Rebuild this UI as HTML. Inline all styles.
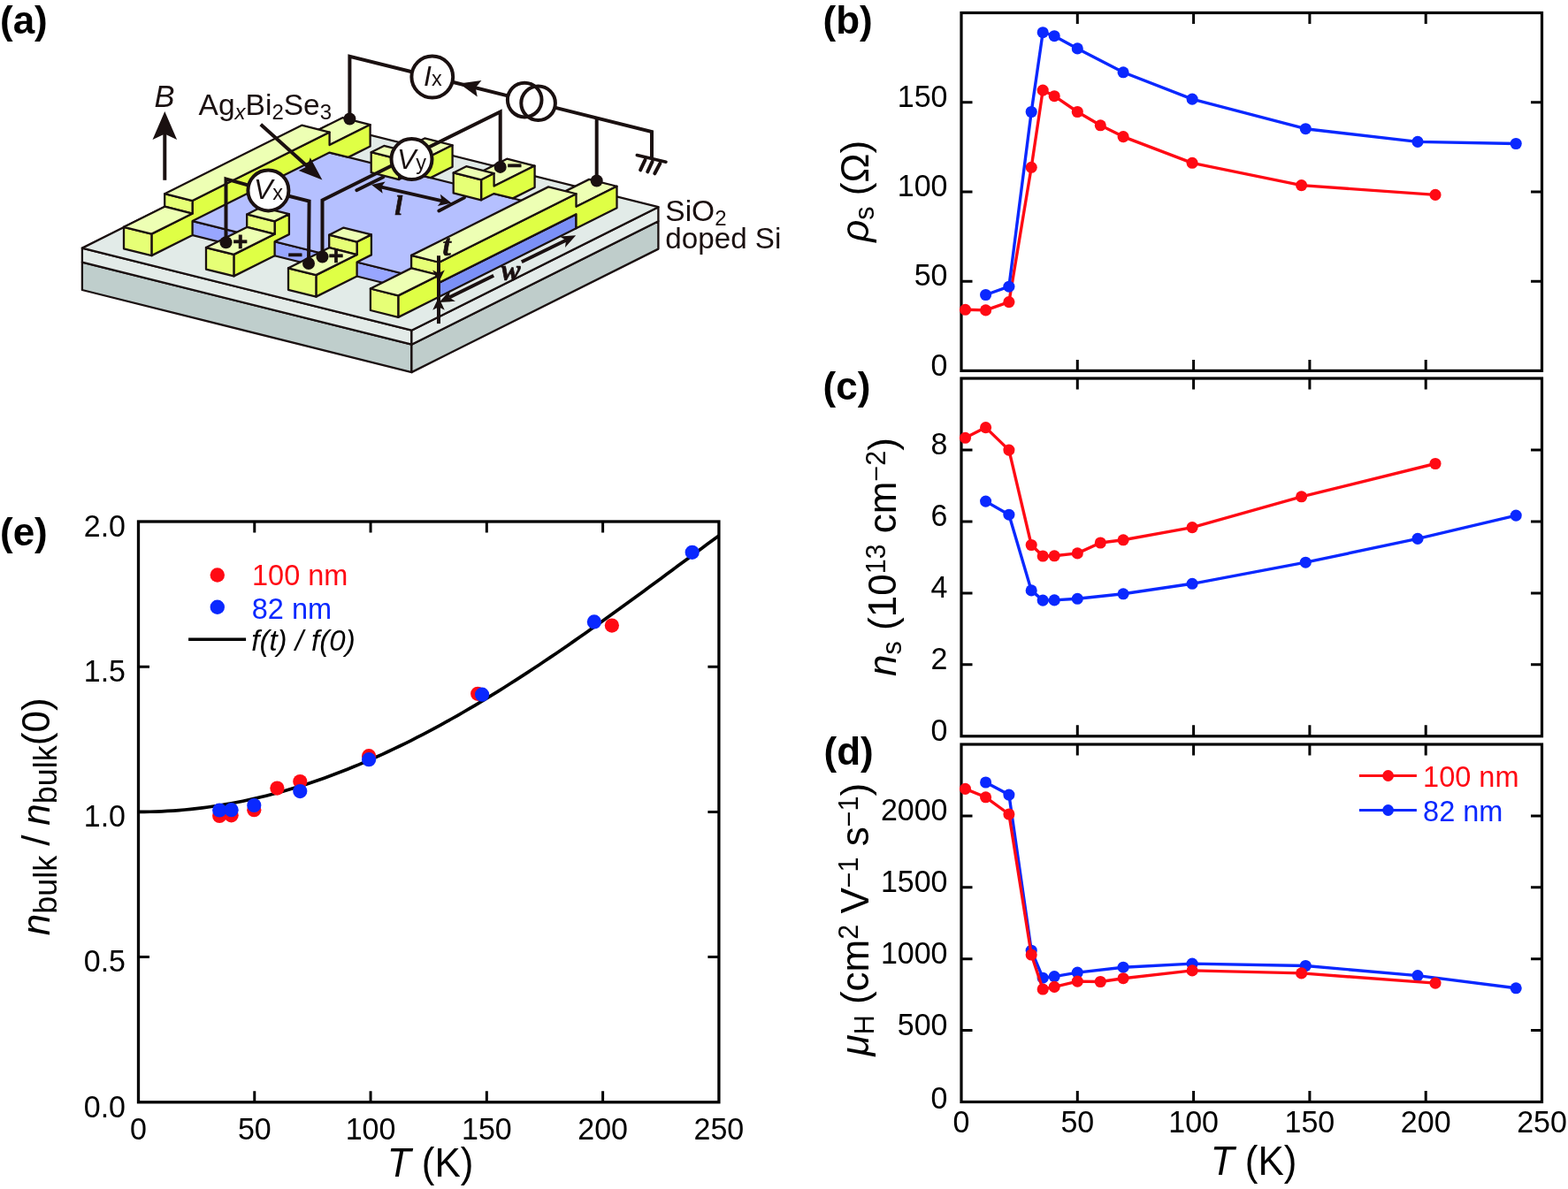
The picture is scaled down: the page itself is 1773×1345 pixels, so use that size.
<!DOCTYPE html>
<html lang="en"><head><meta charset="utf-8"><title>Figure</title>
<style>
html,body{margin:0;padding:0;background:#fff;}
body{width:1773px;height:1345px;overflow:hidden;}
svg{display:block;font-family:"Liberation Sans", sans-serif;}
</style></head><body>
<svg width="1773" height="1345" viewBox="0 0 1773 1345">
<rect width="1773" height="1345" fill="#fff"/>
<rect x="1087" y="14.5" width="656.5" height="404.9" fill="none" stroke="#000" stroke-width="3.2"/>
<path d="M1218.3 419.4v-12.5M1218.3 14.5v12.5M1349.6 419.4v-12.5M1349.6 14.5v12.5M1480.9 419.4v-12.5M1480.9 14.5v12.5M1612.2 419.4v-12.5M1612.2 14.5v12.5M1087 318.17h12.5M1743.5 318.17h-12.5M1087 216.95h12.5M1743.5 216.95h-12.5M1087 115.72h12.5M1743.5 115.72h-12.5" fill="none" stroke="#000" stroke-width="3.0"/>
<polyline points="1091.5,350.3 1114.6,350.9 1140.9,341.6 1166.2,189.3 1179.2,102.1 1192.2,108.7 1218.3,126.5 1244.3,141.8 1270.1,154.6 1348.1,184.3 1471.6,209.6 1623,220.4" fill="none" stroke="#ff0a14" stroke-width="3.4" stroke-linejoin="round"/>
<g fill="#ff0a14"><circle cx="1091.5" cy="350.3" r="6.55"/><circle cx="1114.6" cy="350.9" r="6.55"/><circle cx="1140.9" cy="341.6" r="6.55"/><circle cx="1166.2" cy="189.3" r="6.55"/><circle cx="1179.2" cy="102.1" r="6.55"/><circle cx="1192.2" cy="108.7" r="6.55"/><circle cx="1218.3" cy="126.5" r="6.55"/><circle cx="1244.3" cy="141.8" r="6.55"/><circle cx="1270.1" cy="154.6" r="6.55"/><circle cx="1348.1" cy="184.3" r="6.55"/><circle cx="1471.6" cy="209.6" r="6.55"/><circle cx="1623" cy="220.4" r="6.55"/></g>
<polyline points="1114.6,333.5 1140.9,324.2 1166.2,126.5 1179.2,36.7 1192.2,40.7 1218.3,54.9 1270.1,81.8 1348.1,112.1 1476.3,145.7 1603,160.4 1714.2,162.5" fill="none" stroke="#0a28ff" stroke-width="3.4" stroke-linejoin="round"/>
<g fill="#0a28ff"><circle cx="1114.6" cy="333.5" r="6.55"/><circle cx="1140.9" cy="324.2" r="6.55"/><circle cx="1166.2" cy="126.5" r="6.55"/><circle cx="1179.2" cy="36.7" r="6.55"/><circle cx="1192.2" cy="40.7" r="6.55"/><circle cx="1218.3" cy="54.9" r="6.55"/><circle cx="1270.1" cy="81.8" r="6.55"/><circle cx="1348.1" cy="112.1" r="6.55"/><circle cx="1476.3" cy="145.7" r="6.55"/><circle cx="1603" cy="160.4" r="6.55"/><circle cx="1714.2" cy="162.5" r="6.55"/></g>
<text transform="translate(1071.5 424.6) scale(1 1.04)" font-size="34" text-anchor="end">0</text>
<text transform="translate(1071.5 323.37) scale(1 1.04)" font-size="34" text-anchor="end">50</text>
<text transform="translate(1071.5 222.15) scale(1 1.04)" font-size="34" text-anchor="end">100</text>
<text transform="translate(1071.5 120.92) scale(1 1.04)" font-size="34" text-anchor="end">150</text>
<rect x="1087" y="428" width="656.5" height="404.8" fill="none" stroke="#000" stroke-width="3.2"/>
<path d="M1218.3 832.8v-12.5M1218.3 428v12.5M1349.6 832.8v-12.5M1349.6 428v12.5M1480.9 832.8v-12.5M1480.9 428v12.5M1612.2 832.8v-12.5M1612.2 428v12.5M1087 751.84h12.5M1743.5 751.84h-12.5M1087 670.88h12.5M1743.5 670.88h-12.5M1087 589.92h12.5M1743.5 589.92h-12.5M1087 508.96h12.5M1743.5 508.96h-12.5" fill="none" stroke="#000" stroke-width="3.0"/>
<polyline points="1114.6,567.1 1140.9,582.2 1166.2,667.9 1179.2,679.1 1192.2,678.9 1218.3,677.3 1270.1,671.8 1348.1,660.3 1476.3,636.2 1603,609.4 1714.2,583.1" fill="none" stroke="#0a28ff" stroke-width="3.4" stroke-linejoin="round"/>
<g fill="#0a28ff"><circle cx="1114.6" cy="567.1" r="6.55"/><circle cx="1140.9" cy="582.2" r="6.55"/><circle cx="1166.2" cy="667.9" r="6.55"/><circle cx="1179.2" cy="679.1" r="6.55"/><circle cx="1192.2" cy="678.9" r="6.55"/><circle cx="1218.3" cy="677.3" r="6.55"/><circle cx="1270.1" cy="671.8" r="6.55"/><circle cx="1348.1" cy="660.3" r="6.55"/><circle cx="1476.3" cy="636.2" r="6.55"/><circle cx="1603" cy="609.4" r="6.55"/><circle cx="1714.2" cy="583.1" r="6.55"/></g>
<polyline points="1091.5,495.3 1114.6,483.6 1140.9,509.1 1166.2,616.5 1179.2,629 1192.2,628.8 1218.3,625.9 1244.3,614 1270.1,610.8 1348.1,596.6 1471.6,561.8 1623,524.5" fill="none" stroke="#ff0a14" stroke-width="3.4" stroke-linejoin="round"/>
<g fill="#ff0a14"><circle cx="1091.5" cy="495.3" r="6.55"/><circle cx="1114.6" cy="483.6" r="6.55"/><circle cx="1140.9" cy="509.1" r="6.55"/><circle cx="1166.2" cy="616.5" r="6.55"/><circle cx="1179.2" cy="629" r="6.55"/><circle cx="1192.2" cy="628.8" r="6.55"/><circle cx="1218.3" cy="625.9" r="6.55"/><circle cx="1244.3" cy="614" r="6.55"/><circle cx="1270.1" cy="610.8" r="6.55"/><circle cx="1348.1" cy="596.6" r="6.55"/><circle cx="1471.6" cy="561.8" r="6.55"/><circle cx="1623" cy="524.5" r="6.55"/></g>
<text transform="translate(1071.5 838) scale(1 1.04)" font-size="34" text-anchor="end">0</text>
<text transform="translate(1071.5 757.04) scale(1 1.04)" font-size="34" text-anchor="end">2</text>
<text transform="translate(1071.5 676.08) scale(1 1.04)" font-size="34" text-anchor="end">4</text>
<text transform="translate(1071.5 595.12) scale(1 1.04)" font-size="34" text-anchor="end">6</text>
<text transform="translate(1071.5 514.16) scale(1 1.04)" font-size="34" text-anchor="end">8</text>
<rect x="1087" y="842" width="656.5" height="404.5" fill="none" stroke="#000" stroke-width="3.2"/>
<path d="M1218.3 1246.5v-12.5M1218.3 842v12.5M1349.6 1246.5v-12.5M1349.6 842v12.5M1480.9 1246.5v-12.5M1480.9 842v12.5M1612.2 1246.5v-12.5M1612.2 842v12.5M1087 1165.6h12.5M1743.5 1165.6h-12.5M1087 1084.7h12.5M1743.5 1084.7h-12.5M1087 1003.8h12.5M1743.5 1003.8h-12.5M1087 922.9h12.5M1743.5 922.9h-12.5" fill="none" stroke="#000" stroke-width="3.0"/>
<polyline points="1114.6,885 1140.9,899.1 1166.2,1075.2 1179.2,1106.2 1192.2,1104.6 1218.3,1100.1 1270.1,1094.2 1348.1,1090.1 1476.3,1092.5 1603,1103.6 1714.2,1117.8" fill="none" stroke="#0a28ff" stroke-width="3.4" stroke-linejoin="round"/>
<g fill="#0a28ff"><circle cx="1114.6" cy="885" r="6.55"/><circle cx="1140.9" cy="899.1" r="6.55"/><circle cx="1166.2" cy="1075.2" r="6.55"/><circle cx="1179.2" cy="1106.2" r="6.55"/><circle cx="1192.2" cy="1104.6" r="6.55"/><circle cx="1218.3" cy="1100.1" r="6.55"/><circle cx="1270.1" cy="1094.2" r="6.55"/><circle cx="1348.1" cy="1090.1" r="6.55"/><circle cx="1476.3" cy="1092.5" r="6.55"/><circle cx="1603" cy="1103.6" r="6.55"/><circle cx="1714.2" cy="1117.8" r="6.55"/></g>
<polyline points="1091.5,892.4 1114.6,901.8 1140.9,921 1166.2,1080 1179.2,1119 1192.2,1116.4 1218.3,1110.1 1244.3,1110.5 1270.1,1106.7 1348.1,1097.9 1471.6,1100.9 1623,1112.1" fill="none" stroke="#ff0a14" stroke-width="3.4" stroke-linejoin="round"/>
<g fill="#ff0a14"><circle cx="1091.5" cy="892.4" r="6.55"/><circle cx="1114.6" cy="901.8" r="6.55"/><circle cx="1140.9" cy="921" r="6.55"/><circle cx="1166.2" cy="1080" r="6.55"/><circle cx="1179.2" cy="1119" r="6.55"/><circle cx="1192.2" cy="1116.4" r="6.55"/><circle cx="1218.3" cy="1110.1" r="6.55"/><circle cx="1244.3" cy="1110.5" r="6.55"/><circle cx="1270.1" cy="1106.7" r="6.55"/><circle cx="1348.1" cy="1097.9" r="6.55"/><circle cx="1471.6" cy="1100.9" r="6.55"/><circle cx="1623" cy="1112.1" r="6.55"/></g>
<text transform="translate(1071.5 1253.7) scale(1 1.04)" font-size="34" text-anchor="end">0</text>
<text transform="translate(1071.5 1170.8) scale(1 1.04)" font-size="34" text-anchor="end">500</text>
<text transform="translate(1071.5 1089.9) scale(1 1.04)" font-size="34" text-anchor="end">1000</text>
<text transform="translate(1071.5 1009) scale(1 1.04)" font-size="34" text-anchor="end">1500</text>
<text transform="translate(1071.5 928.1) scale(1 1.04)" font-size="34" text-anchor="end">2000</text>
<text transform="translate(1087 1281.4) scale(1 1.04)" font-size="34" text-anchor="middle">0</text>
<text transform="translate(1218.3 1281.4) scale(1 1.04)" font-size="34" text-anchor="middle">50</text>
<text transform="translate(1349.6 1281.4) scale(1 1.04)" font-size="34" text-anchor="middle">100</text>
<text transform="translate(1480.9 1281.4) scale(1 1.04)" font-size="34" text-anchor="middle">150</text>
<text transform="translate(1612.2 1281.4) scale(1 1.04)" font-size="34" text-anchor="middle">200</text>
<text transform="translate(1743.5 1281.4) scale(1 1.04)" font-size="34" text-anchor="middle">250</text>
<path d="M1536.9 877.5H1601.9" stroke="#ff0a14" stroke-width="3.2"/><circle cx="1569.6" cy="877.5" r="6.4" fill="#ff0a14"/>
<path d="M1536.9 916.5H1601.9" stroke="#0a28ff" stroke-width="3.2"/><circle cx="1569.6" cy="916.5" r="6.4" fill="#0a28ff"/>
<text x="1609.1" y="889.9" font-size="32.5" fill="#ff0a14">100 nm</text>
<text x="1609.1" y="928.9" font-size="32.5" fill="#0a28ff">82 nm</text>
<text transform="translate(1417.5 1329) scale(1 1.035)" font-size="44" text-anchor="middle"><tspan font-style="italic">T</tspan> (K)</text>
<text transform="translate(982.1 216.4) rotate(-90)" font-size="44" text-anchor="middle"><tspan font-style="italic">ρ</tspan><tspan font-size="30.5" dy="5.6">s</tspan><tspan dy="-5.6"> (Ω)</tspan></text>
<text transform="translate(1013.3 630) rotate(-90)" font-size="44" text-anchor="middle"><tspan font-style="italic">n</tspan><tspan font-size="30.5" dy="5.6">s</tspan><tspan dy="-5.6"> (10</tspan><tspan font-size="30.5" dy="-12">13</tspan><tspan dy="12"> cm</tspan><tspan font-size="30.5" dy="-12">−2</tspan><tspan dy="12">)</tspan></text>
<text transform="translate(982 1040.1) rotate(-90)" font-size="44" text-anchor="middle"><tspan font-style="italic">μ</tspan><tspan font-size="30.5" dy="5.6">H</tspan><tspan dy="-5.6"> (cm</tspan><tspan font-size="30.5" dy="-12">2</tspan><tspan dy="12"> V</tspan><tspan font-size="30.5" dy="-12">−1</tspan><tspan dy="12"> s</tspan><tspan font-size="30.5" dy="-12">−1</tspan><tspan dy="12">)</tspan></text>
<polyline points="156.5,918.4 163.06,918.36 169.63,918.25 176.19,918.06 182.76,917.8 189.32,917.46 195.88,917.04 202.45,916.55 209.01,915.98 215.58,915.34 222.14,914.62 228.7,913.83 235.27,912.96 241.83,912.02 248.4,911 254.96,909.91 261.52,908.74 268.09,907.5 274.65,906.19 281.22,904.8 287.78,903.33 294.34,901.8 300.91,900.19 307.47,898.51 314.04,896.75 320.6,894.93 327.16,893.03 333.73,891.06 340.29,889.03 346.86,886.92 353.42,884.74 359.98,882.49 366.55,880.17 373.11,877.79 379.68,875.33 386.24,872.81 392.8,870.22 399.37,867.57 405.93,864.85 412.5,862.07 419.06,859.22 425.62,856.31 432.19,853.33 438.75,850.3 445.32,847.2 451.88,844.04 458.44,840.82 465.01,837.54 471.57,834.2 478.14,830.81 484.7,827.35 491.26,823.85 497.83,820.28 504.39,816.67 510.96,813 517.52,809.27 524.08,805.5 530.65,801.67 537.21,797.8 543.78,793.87 550.34,789.9 556.9,785.89 563.47,781.82 570.03,777.72 576.6,773.56 583.16,769.37 589.72,765.14 596.29,760.86 602.85,756.55 609.42,752.2 615.98,747.81 622.54,743.39 629.11,738.93 635.67,734.44 642.24,729.92 648.8,725.37 655.36,720.79 661.93,716.18 668.49,711.55 675.06,706.89 681.62,702.21 688.18,697.5 694.75,692.78 701.31,688.03 707.88,683.27 714.44,678.49 721,673.7 727.57,668.89 734.13,664.08 740.7,659.25 747.26,654.41 753.82,649.57 760.39,644.72 766.95,639.86 773.52,635.01 780.08,630.15 786.64,625.29 793.21,620.44 799.77,615.59 806.34,610.75 812.9,605.92" fill="none" stroke="#000" stroke-width="3.7"/>
<rect x="156.5" y="590" width="656.4" height="656.8" fill="none" stroke="#000" stroke-width="3.3"/>
<path d="M287.78 1246.8v-12.5M287.78 590v12.5M419.06 1246.8v-12.5M419.06 590v12.5M550.34 1246.8v-12.5M550.34 590v12.5M681.62 1246.8v-12.5M681.62 590v12.5M156.5 1082.6h12.5M812.9 1082.6h-12.5M156.5 918.4h12.5M812.9 918.4h-12.5M156.5 754.2h12.5M812.9 754.2h-12.5" fill="none" stroke="#000" stroke-width="3.0"/>
<g fill="#ff0a14"><circle cx="248.2" cy="922.9" r="8.1"/><circle cx="261.6" cy="922.3" r="8.1"/><circle cx="287.3" cy="916.2" r="8.1"/><circle cx="313.4" cy="891.6" r="8.1"/><circle cx="339.3" cy="884.1" r="8.1"/><circle cx="417.1" cy="855.2" r="8.1"/><circle cx="540.2" cy="784.8" r="8.1"/><circle cx="691.9" cy="707.6" r="8.1"/></g>
<g fill="#0a28ff"><circle cx="248.2" cy="916.5" r="8.1"/><circle cx="261.6" cy="916.2" r="8.1"/><circle cx="287.3" cy="911" r="8.1"/><circle cx="339.3" cy="895.1" r="8.1"/><circle cx="417.1" cy="859.2" r="8.1"/><circle cx="545.1" cy="785.7" r="8.1"/><circle cx="671.9" cy="703.4" r="8.1"/><circle cx="782.7" cy="624.8" r="8.1"/></g>
<text transform="translate(142 1263.6) scale(1 1.04)" font-size="34" text-anchor="end">0.0</text>
<text transform="translate(142 1099.4) scale(1 1.04)" font-size="34" text-anchor="end">0.5</text>
<text transform="translate(142 935.2) scale(1 1.04)" font-size="34" text-anchor="end">1.0</text>
<text transform="translate(142 771) scale(1 1.04)" font-size="34" text-anchor="end">1.5</text>
<text transform="translate(142 606.8) scale(1 1.04)" font-size="34" text-anchor="end">2.0</text>
<text transform="translate(156.5 1288.9) scale(1 1.04)" font-size="34" text-anchor="middle">0</text>
<text transform="translate(287.78 1288.9) scale(1 1.04)" font-size="34" text-anchor="middle">50</text>
<text transform="translate(419.06 1288.9) scale(1 1.04)" font-size="34" text-anchor="middle">100</text>
<text transform="translate(550.34 1288.9) scale(1 1.04)" font-size="34" text-anchor="middle">150</text>
<text transform="translate(681.62 1288.9) scale(1 1.04)" font-size="34" text-anchor="middle">200</text>
<text transform="translate(812.9 1288.9) scale(1 1.04)" font-size="34" text-anchor="middle">250</text>
<text transform="translate(486.5 1330.8) scale(1 1.035)" font-size="44" text-anchor="middle"><tspan font-style="italic">T</tspan> (K)</text>
<circle cx="245.8" cy="650.5" r="8.2" fill="#ff0a14"/><circle cx="245.8" cy="686.7" r="8.2" fill="#0a28ff"/>
<path d="M213.1 723.3H278.1" stroke="#000" stroke-width="3.5"/>
<text x="285" y="662.3" font-size="32.5" fill="#ff0a14">100 nm</text>
<text x="284.8" y="699.6" font-size="32.5" fill="#0a28ff">82 nm</text>
<text x="284.3" y="735.5" font-size="33" font-style="italic">f(t) / f(0)</text>
<text transform="translate(55.8 923.8) rotate(-90)" font-size="44" text-anchor="middle"><tspan font-style="italic">n</tspan><tspan font-size="36" dy="7.8">bulk</tspan><tspan dy="-7.8" word-spacing="-1.4"> / </tspan><tspan font-style="italic">n</tspan><tspan font-size="36" dy="7.8">bulk</tspan><tspan dy="-7.8">(0)</tspan></text>
<text x="0" y="38" font-size="44" font-weight="bold">(a)</text>
<text x="930.6" y="38" font-size="44" font-weight="bold">(b)</text>
<text x="930.6" y="452" font-size="44" font-weight="bold">(c)</text>
<text x="931.5" y="865" font-size="44" font-weight="bold">(d)</text>
<text x="0" y="617" font-size="44" font-weight="bold">(e)</text>
<g>
<polygon points="92.9,328 465.4,421.12 465.4,389.73 92.9,296.6" fill="#bfcecc" stroke="#1a1010" stroke-width="2.3" stroke-linejoin="round"/>
<polygon points="465.4,421.12 744.4,281.62 744.4,250.23 465.4,389.73" fill="#bfcdcb" stroke="#1a1010" stroke-width="2.3" stroke-linejoin="round"/>
<polygon points="92.9,296.6 465.4,389.73 465.4,373.73 92.9,280.6" fill="#e3ebe8" stroke="#1a1010" stroke-width="2.3" stroke-linejoin="round"/>
<polygon points="465.4,389.73 744.4,250.23 744.4,234.23 465.4,373.73" fill="#e4ecea" stroke="#1a1010" stroke-width="2.3" stroke-linejoin="round"/>
<polygon points="92.9,280.6 465.4,373.73 744.4,234.23 371.9,141.1" fill="#e2ebe8" stroke="#1a1010" stroke-width="2.3" stroke-linejoin="round"/>
<polygon points="341.2,156.18 372.6,164.03 418.6,141.03 387.2,133.18" fill="#edffb4" stroke="#1a1010" stroke-width="2.3" stroke-linejoin="round"/>
<polygon points="434.2,179.43 465.6,187.28 511.6,164.28 480.2,156.43" fill="#edffb4" stroke="#1a1010" stroke-width="2.3" stroke-linejoin="round"/>
<polygon points="527.2,202.68 558.6,210.53 604.6,187.53 573.2,179.68" fill="#edffb4" stroke="#1a1010" stroke-width="2.3" stroke-linejoin="round"/>
<polygon points="620.1,225.9 651.5,233.75 697.5,210.75 666.1,202.9" fill="#edffb4" stroke="#1a1010" stroke-width="2.3" stroke-linejoin="round"/>
<polygon points="201.9,262.1 496.5,335.75 496.5,319.75 201.9,246.1" fill="#98a6ff" stroke="#1a1010" stroke-width="2.3" stroke-linejoin="round"/>
<polygon points="496.5,335.75 651.5,258.25 651.5,242.25 496.5,319.75" fill="#7b90f7" stroke="#1a1010" stroke-width="2.3" stroke-linejoin="round"/>
<polygon points="201.9,246.1 496.5,319.75 651.5,242.25 356.9,168.6" fill="#b5c0ff" stroke="#1a1010" stroke-width="2.3" stroke-linejoin="round"/>
<polygon points="171.4,289.13 217.6,266.03 217.6,250.03 372.6,172.53 393.93,177.86 418.6,165.53 418.6,141.03 372.6,164.03 372.6,149.53 217.6,227.03 217.6,241.53 171.4,264.63" fill="#dfff45" stroke="#1a1010" stroke-width="2.3" stroke-linejoin="round"/>
<polygon points="186.2,233.68 217.6,241.53 217.6,227.03 186.2,219.18" fill="#e6ff76" stroke="#1a1010" stroke-width="2.3" stroke-linejoin="round"/>
<polygon points="186.2,219.18 217.6,227.03 372.6,149.53 341.2,141.68" fill="#edffb4" stroke="#1a1010" stroke-width="2.3" stroke-linejoin="round"/>
<polygon points="140,281.28 171.4,289.13 171.4,264.63 140,256.78" fill="#e6ff76" stroke="#1a1010" stroke-width="2.3" stroke-linejoin="round"/>
<polygon points="140,256.78 171.4,264.63 217.6,241.53 186.2,233.68" fill="#edffb4" stroke="#1a1010" stroke-width="2.3" stroke-linejoin="round"/>
<polygon points="451.1,203.03 465.6,195.78 486.93,201.11 511.6,188.78 511.6,164.28 465.6,187.28 465.6,172.78 451.1,180.03" fill="#dfff45" stroke="#1a1010" stroke-width="2.3" stroke-linejoin="round"/>
<polygon points="419.7,195.18 451.1,203.03 451.1,180.03 419.7,172.18" fill="#e6ff76" stroke="#1a1010" stroke-width="2.3" stroke-linejoin="round"/>
<polygon points="419.7,172.18 451.1,180.03 465.6,172.78 434.2,164.93" fill="#edffb4" stroke="#1a1010" stroke-width="2.3" stroke-linejoin="round"/>
<polygon points="544.1,226.28 558.6,219.03 579.93,224.36 604.6,212.03 604.6,187.53 558.6,210.53 558.6,196.03 544.1,203.28" fill="#dfff45" stroke="#1a1010" stroke-width="2.3" stroke-linejoin="round"/>
<polygon points="512.7,218.43 544.1,226.28 544.1,203.28 512.7,195.43" fill="#e6ff76" stroke="#1a1010" stroke-width="2.3" stroke-linejoin="round"/>
<polygon points="512.7,195.43 544.1,203.28 558.6,196.03 527.2,188.18" fill="#edffb4" stroke="#1a1010" stroke-width="2.3" stroke-linejoin="round"/>
<polygon points="264.4,312.38 310.6,289.28 310.6,273.28 326.9,265.13 326.9,242.13 310.6,250.28 310.6,264.78 264.4,287.88" fill="#dfff45" stroke="#1a1010" stroke-width="2.3" stroke-linejoin="round"/>
<polygon points="279.2,256.93 310.6,264.78 310.6,250.28 279.2,242.43" fill="#e6ff76" stroke="#1a1010" stroke-width="2.3" stroke-linejoin="round"/>
<polygon points="279.2,242.43 310.6,250.28 326.9,242.13 295.5,234.28" fill="#edffb4" stroke="#1a1010" stroke-width="2.3" stroke-linejoin="round"/>
<polygon points="233,304.53 264.4,312.38 264.4,287.88 233,280.03" fill="#e6ff76" stroke="#1a1010" stroke-width="2.3" stroke-linejoin="round"/>
<polygon points="233,280.03 264.4,287.88 310.6,264.78 279.2,256.93" fill="#edffb4" stroke="#1a1010" stroke-width="2.3" stroke-linejoin="round"/>
<polygon points="357.4,335.63 403.6,312.53 403.6,296.53 419.9,288.38 419.9,265.38 403.6,273.53 403.6,288.03 357.4,311.13" fill="#dfff45" stroke="#1a1010" stroke-width="2.3" stroke-linejoin="round"/>
<polygon points="372.2,280.18 403.6,288.03 403.6,273.53 372.2,265.68" fill="#e6ff76" stroke="#1a1010" stroke-width="2.3" stroke-linejoin="round"/>
<polygon points="372.2,265.68 403.6,273.53 419.9,265.38 388.5,257.53" fill="#edffb4" stroke="#1a1010" stroke-width="2.3" stroke-linejoin="round"/>
<polygon points="326,327.78 357.4,335.63 357.4,311.13 326,303.28" fill="#e6ff76" stroke="#1a1010" stroke-width="2.3" stroke-linejoin="round"/>
<polygon points="326,303.28 357.4,311.13 403.6,288.03 372.2,280.18" fill="#edffb4" stroke="#1a1010" stroke-width="2.3" stroke-linejoin="round"/>
<polygon points="450.3,358.85 496.5,335.75 496.5,319.75 651.5,242.25 651.5,258.25 697.5,235.25 697.5,210.75 651.5,233.75 651.5,219.25 496.5,296.75 496.5,311.25 450.3,334.35" fill="#dfff45" stroke="#1a1010" stroke-width="2.3" stroke-linejoin="round"/>
<polygon points="465.1,303.4 496.5,311.25 496.5,296.75 465.1,288.9" fill="#e6ff76" stroke="#1a1010" stroke-width="2.3" stroke-linejoin="round"/>
<polygon points="465.1,288.9 496.5,296.75 651.5,219.25 620.1,211.4" fill="#edffb4" stroke="#1a1010" stroke-width="2.3" stroke-linejoin="round"/>
<polygon points="418.9,351 450.3,358.85 450.3,334.35 418.9,326.5" fill="#e6ff76" stroke="#1a1010" stroke-width="2.3" stroke-linejoin="round"/>
<polygon points="418.9,326.5 450.3,334.35 496.5,311.25 465.1,303.4" fill="#edffb4" stroke="#1a1010" stroke-width="2.3" stroke-linejoin="round"/>
</g>
<polyline points="186.3,203.8 186.3,150" fill="none" stroke="#1a1010" stroke-width="4.0" stroke-linecap="butt" stroke-linejoin="miter"/>
<polygon points="186.3,126 200.1,158 186.3,151.5 172.5,158" fill="#1a1010"/>
<text x="174.6" y="121.2" font-size="34.5" font-style="italic" fill="#1a1010">B</text>
<text x="224.6" y="130" font-size="33.5" fill="#1a1010">Ag<tspan font-size="24" font-style="italic" dy="5">x</tspan><tspan dy="-5">Bi</tspan><tspan font-size="24" dy="5">2</tspan><tspan dy="-5">Se</tspan><tspan font-size="24" dy="5">3</tspan></text>
<polyline points="294.8,140.8 354,194" fill="none" stroke="#1a1010" stroke-width="4.0" stroke-linecap="butt" stroke-linejoin="miter"/>
<polygon points="364.4,203.6 337.74,192.91 347.25,188.27 350.8,178.3" fill="#1a1010"/>
<polyline points="395.4,134.5 395.4,63.7 488.8,87.05 593.2,113.1 737,149.05 737,178" fill="none" stroke="#1a1010" stroke-width="4.0" stroke-linecap="butt" stroke-linejoin="miter"/>
<polyline points="674.7,133.5 674.7,204.5" fill="none" stroke="#1a1010" stroke-width="4.0" stroke-linecap="butt" stroke-linejoin="miter"/>
<polyline points="255.5,274.2 255.5,202.4 303.6,216 349.6,227.5 349,297.2" fill="none" stroke="#1a1010" stroke-width="4.0" stroke-linecap="butt" stroke-linejoin="miter"/>
<polyline points="364.5,289.7 364.5,226.4 565.7,126.4 565.7,188.9" fill="none" stroke="#1a1010" stroke-width="4.0" stroke-linecap="butt" stroke-linejoin="miter"/>
<polyline points="720.3,175.5 753,183.2" fill="none" stroke="#1a1010" stroke-width="3.6" stroke-linecap="round" stroke-linejoin="miter"/>
<polyline points="729.5,180.8 724.1,192.3" fill="none" stroke="#1a1010" stroke-width="4.0" stroke-linecap="round" stroke-linejoin="miter"/>
<polyline points="737.6,182.8 732.2,194.3" fill="none" stroke="#1a1010" stroke-width="4.0" stroke-linecap="round" stroke-linejoin="miter"/>
<polyline points="746.4,184.8 740.3,196.3" fill="none" stroke="#1a1010" stroke-width="4.0" stroke-linecap="round" stroke-linejoin="miter"/>
<polygon points="519.3,94.6 544.43,90.99 537.73,99.21 539.77,109.61" fill="#1a1010"/>
<circle cx="593.2" cy="113.1" r="19.3" fill="#fff"/><circle cx="608.6" cy="116.7" r="19.3" fill="#fff"/>
<circle cx="608.6" cy="116.7" r="19.3" fill="none" stroke="#1a1010" stroke-width="4.0"/>
<circle cx="593.2" cy="113.1" r="19.3" fill="none" stroke="#1a1010" stroke-width="4.0"/>
<circle cx="488.8" cy="87" r="23.4" fill="#fff" stroke="#1a1010" stroke-width="4.0"/>
<circle cx="303.4" cy="215.4" r="23.0" fill="#fff" stroke="#1a1010" stroke-width="4.0"/>
<circle cx="465.5" cy="180.1" r="23.0" fill="#fff" stroke="#1a1010" stroke-width="4.0"/>
<text x="479" y="96.8" font-size="32" fill="#1a1010"><tspan font-style="italic">I</tspan><tspan font-size="23.5" dy="0.5">x</tspan></text>
<text x="287" y="225.2" font-size="32" fill="#1a1010"><tspan font-style="italic">V</tspan><tspan font-size="23.5" dy="0.5">x</tspan></text>
<text x="449" y="191.2" font-size="32" fill="#1a1010"><tspan font-style="italic">V</tspan><tspan font-size="23.5" dy="0.5">y</tspan></text>
<circle cx="395.4" cy="134.5" r="7.0" fill="#1a1010"/>
<circle cx="674.7" cy="204.5" r="7.0" fill="#1a1010"/>
<circle cx="255.5" cy="274.2" r="7.0" fill="#1a1010"/>
<circle cx="349" cy="298" r="7.0" fill="#1a1010"/>
<circle cx="364.5" cy="290.5" r="7.0" fill="#1a1010"/>
<circle cx="565.7" cy="188.9" r="7.0" fill="#1a1010"/>
<text x="263.21" y="283.34" font-size="29.0" font-weight="bold" fill="#1a1010" stroke="#1a1010" stroke-width="0.7">+</text>
<text x="325.51" y="298.24" font-size="29.0" font-weight="bold" fill="#1a1010" stroke="#1a1010" stroke-width="0.7">−</text>
<text x="371.51" y="298.54" font-size="29.0" font-weight="bold" fill="#1a1010" stroke="#1a1010" stroke-width="0.7">+</text>
<text x="573.51" y="197.44" font-size="29.0" font-weight="bold" fill="#1a1010" stroke="#1a1010" stroke-width="0.7">−</text>
<polyline points="403.2,215.2 433.5,200.2" fill="none" stroke="#1a1010" stroke-width="3.8" stroke-linecap="round" stroke-linejoin="miter"/>
<polyline points="496.3,238.5 525,223.6" fill="none" stroke="#1a1010" stroke-width="3.8" stroke-linecap="round" stroke-linejoin="miter"/>
<polyline points="428,210.9 502.5,227.8" fill="none" stroke="#1a1010" stroke-width="3.9" stroke-linecap="butt" stroke-linejoin="miter"/>
<polygon points="420,209 435.65,205.59 431.21,211.56 432.63,218.85" fill="#1a1010"/>
<polygon points="510.5,229.7 494.85,233.11 499.29,227.14 497.87,219.85" fill="#1a1010"/>
<text x="446.3" y="242.6" font-size="32" font-weight="bold" font-style="italic" font-family='"Liberation Serif", serif' fill="#1a1010" stroke="#1a1010" stroke-width="0.7">l</text>
<polyline points="496,289.2 496,366.1" fill="none" stroke="#1a1010" stroke-width="4.0" stroke-linecap="butt" stroke-linejoin="miter"/>
<polygon points="496,319.4 489.2,305.6 496,309.1 502.8,305.6" fill="#1a1010"/>
<polygon points="496,336.2 502.8,350.7 496,347.2 489.2,350.7" fill="#1a1010"/>
<text x="500.5" y="288.5" font-size="33" font-weight="bold" font-style="italic" font-family='"Liberation Serif", serif' fill="#1a1010" stroke="#1a1010" stroke-width="0.7">t</text>
<polyline points="508,336.4 558.2,311.8" fill="none" stroke="#1a1010" stroke-width="4.0" stroke-linecap="butt" stroke-linejoin="miter"/>
<polygon points="496.6,342 508.79,328.23 507.82,336.5 514.95,340.81" fill="#1a1010"/>
<polyline points="589.8,296.3 640,271.7" fill="none" stroke="#1a1010" stroke-width="4.0" stroke-linecap="butt" stroke-linejoin="miter"/>
<polygon points="651.2,266.2 639.01,279.97 639.98,271.7 632.85,267.39" fill="#1a1010"/>
<text x="566.5" y="316.5" font-size="33" font-weight="bold" font-style="italic" font-family='"Liberation Serif", serif' fill="#1a1010" stroke="#1a1010" stroke-width="0.7">w</text>
<text x="752.3" y="250" font-size="33.5" fill="#1a1010">SiO<tspan font-size="24" dy="5">2</tspan></text>
<text x="752.3" y="280.6" font-size="33.2" fill="#1a1010">doped Si</text>
</svg>
</body></html>
